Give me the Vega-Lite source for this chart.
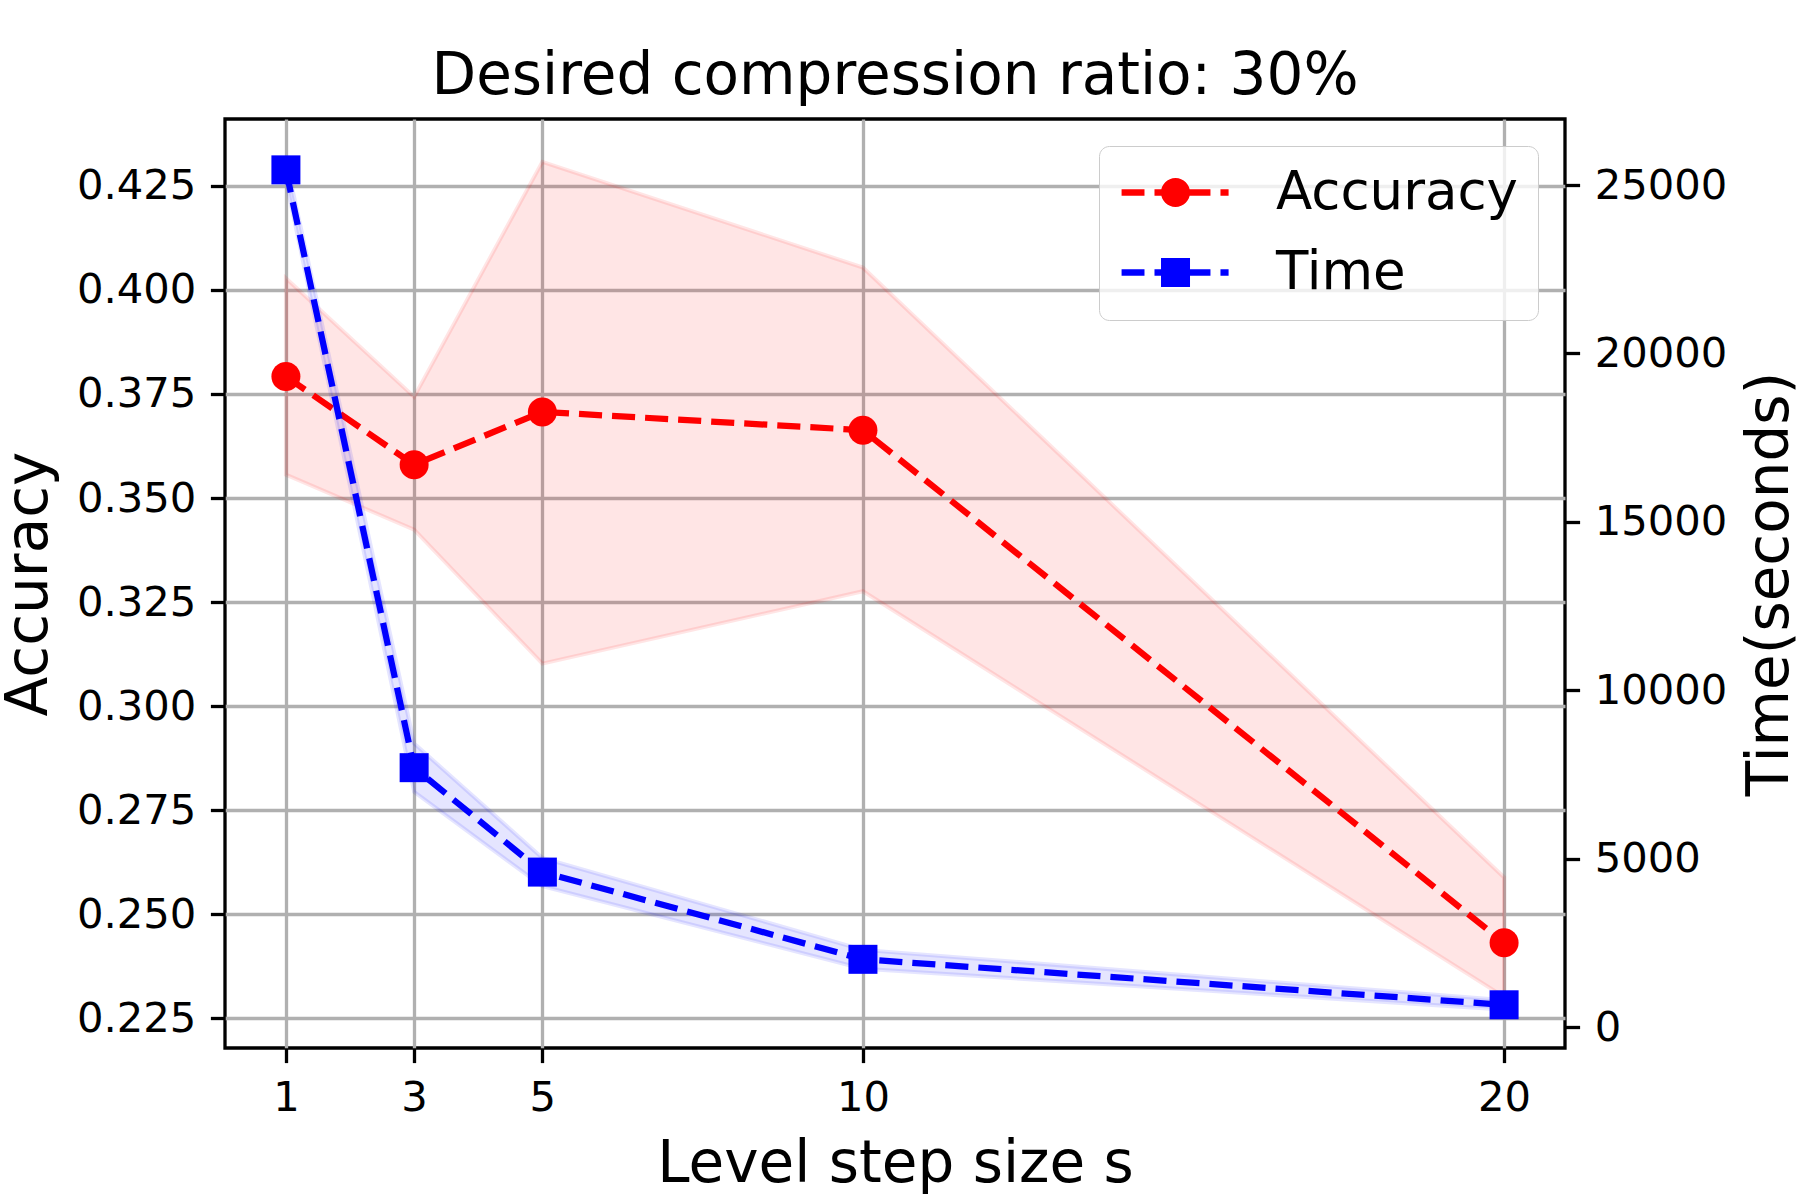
{
  "$schema": "https://vega.github.io/schema/vega-lite/v6.json",
  "width": 1340,
  "height": 929,
  "autosize": {"type": "none"},
  "padding": {"left": 225, "top": 119, "right": 235, "bottom": 152},
  "background": "white",
  "config": {
    "font": "DejaVu Sans",
    "view": {"stroke": "black", "strokeWidth": 3.3},
    "axis": {
      "domain": false,
      "grid": true,
      "gridColor": "#b0b0b0",
      "gridWidth": 3.3,
      "tickColor": "black",
      "tickWidth": 3.3,
      "tickSize": 14.6,
      "labelFont": "DejaVu Sans",
      "labelFontSize": 41.7,
      "labelColor": "black",
      "labelPadding": 14.6,
      "titleFont": "DejaVu Sans",
      "titleFontSize": 58,
      "titleFontWeight": "normal",
      "titleColor": "black"
    },
    "legend": {
      "title": null,
      "orient": "top-right",
      "offset": 27,
      "padding": 20,
      "rowPadding": 26,
      "labelOffset": 104,
      "symbolSize": 841,
      "symbolOpacity": 1,
      "symbolStrokeWidth": 0,
      "labelFont": "DejaVu Sans",
      "labelFontSize": 53,
      "labelColor": "black",
      "labelLimit": 400,
      "fillColor": "rgba(255,255,255,0.8)",
      "strokeColor": "#cccccc",
      "cornerRadius": 10
    }
  },
  "title": {
    "text": "Desired compression ratio: 30%",
    "font": "DejaVu Sans",
    "fontSize": 58,
    "fontWeight": "normal",
    "color": "black",
    "baseline": "alphabetic",
    "offset": -33,
    "frame": "group"
  },
  "data": {
    "values": [
      {"s": 1, "acc": 0.3792, "acc_lo": 0.3556, "acc_hi": 0.4028, "time": 25450, "time_lo": 25150, "time_hi": 25750},
      {"s": 3, "acc": 0.358, "acc_lo": 0.3424, "acc_hi": 0.3743, "time": 7700, "time_lo": 6980, "time_hi": 8420},
      {"s": 5, "acc": 0.3707, "acc_lo": 0.3102, "acc_hi": 0.4308, "time": 4600, "time_lo": 4180, "time_hi": 5020},
      {"s": 10, "acc": 0.3663, "acc_lo": 0.3276, "acc_hi": 0.4054, "time": 2010, "time_lo": 1730, "time_hi": 2290},
      {"s": 20, "acc": 0.2431, "acc_lo": 0.2301, "acc_hi": 0.2588, "time": 660, "time_lo": 520, "time_hi": 800}
    ]
  },
  "layer": [
    {
      "layer": [
        {
          "mark": {"type": "area", "fill": "#ff0000", "fillOpacity": 0.1, "stroke": "#ff0000", "strokeOpacity": 0.1, "strokeWidth": 4},
          "encoding": {
            "x": {
              "field": "s",
              "type": "quantitative",
              "scale": {"domain": [0.05, 20.95], "nice": false, "zero": false},
              "axis": {"values": [1, 3, 5, 10, 20], "format": "d", "title": "Level step size s", "titlePadding": 16.7}
            },
            "y": {
              "field": "acc_hi",
              "type": "quantitative",
              "scale": {"domain": [0.2178, 0.4411], "nice": false, "zero": false},
              "axis": {
                "orient": "left",
                "values": [0.225, 0.25, 0.275, 0.3, 0.325, 0.35, 0.375, 0.4, 0.425],
                "format": ".3f",
                "title": "Accuracy",
                "titlePadding": 18
              }
            },
            "y2": {"field": "acc_lo"}
          }
        },
        {
          "mark": {"type": "line", "color": "#ff0000", "strokeWidth": 6.25, "strokeDash": [23.1, 10]},
          "encoding": {
            "x": {"field": "s", "type": "quantitative"},
            "y": {"field": "acc", "type": "quantitative"}
          }
        },
        {
          "mark": {"type": "point", "shape": "circle", "filled": true, "size": 841, "opacity": 1, "color": "#ff0000"},
          "encoding": {
            "x": {"field": "s", "type": "quantitative"},
            "y": {"field": "acc", "type": "quantitative"}
          }
        },
        {
          "mark": {"type": "point", "filled": true, "size": 841, "opacity": 0},
          "encoding": {
            "x": {"field": "s", "type": "quantitative"},
            "y": {"field": "acc", "type": "quantitative"},
            "color": {
              "datum": "Accuracy",
              "type": "nominal",
              "scale": {"domain": ["Accuracy", "Time"], "range": ["#ff0000", "#0000ff"]},
              "legend": {"encode": {"legend": {"strokeWidth": {"value": 3.3}}}}
            },
            "shape": {
              "datum": "Accuracy",
              "type": "nominal",
              "scale": {
                "domain": ["Accuracy", "Time"],
                "range": [
                  "M-1.65,-0.216 H-0.07 V0.216 H-1.65 Z M0.62,-0.216 H2.07 V0.216 H0.62 Z M2.9,-0.216 H4.48 V0.216 H2.9 Z M5.17,-0.216 H5.73 V0.216 H5.17 Z M3.07,0 A1,1 0 1,1 1.07,0 A1,1 0 1,1 3.07,0 Z",
                  "M-1.65,-0.216 H-0.07 V0.216 H-1.65 Z M0.62,-0.216 H2.07 V0.216 H0.62 Z M2.9,-0.216 H4.48 V0.216 H2.9 Z M5.17,-0.216 H5.73 V0.216 H5.17 Z M1.07,-1 H3.07 V1 H1.07 Z"
                ]
              },
              "legend": {"encode": {"legend": {"strokeWidth": {"value": 3.3}}}}
            }
          }
        }
      ]
    },
    {
      "layer": [
        {
          "mark": {"type": "area", "fill": "#0000ff", "fillOpacity": 0.1, "stroke": "#0000ff", "strokeOpacity": 0.1, "strokeWidth": 4},
          "encoding": {
            "x": {"field": "s", "type": "quantitative"},
            "y": {
              "field": "time_hi",
              "type": "quantitative",
              "scale": {"domain": [-623, 26960], "nice": false, "zero": false},
              "axis": {
                "orient": "right",
                "values": [0, 5000, 10000, 15000, 20000, 25000],
                "format": "d",
                "title": "Time(seconds)",
                "titleAngle": 270,
                "titleBaseline": "top",
                "titlePadding": 15
              }
            },
            "y2": {"field": "time_lo"}
          }
        },
        {
          "mark": {"type": "line", "color": "#0000ff", "strokeWidth": 6.25, "strokeDash": [23.1, 10]},
          "encoding": {
            "x": {"field": "s", "type": "quantitative"},
            "y": {"field": "time", "type": "quantitative"}
          }
        },
        {
          "mark": {"type": "point", "shape": "square", "filled": true, "size": 841, "opacity": 1, "color": "#0000ff"},
          "encoding": {
            "x": {"field": "s", "type": "quantitative"},
            "y": {"field": "time", "type": "quantitative"}
          }
        }
      ]
    }
  ],
  "resolve": {"scale": {"y": "independent"}}
}
